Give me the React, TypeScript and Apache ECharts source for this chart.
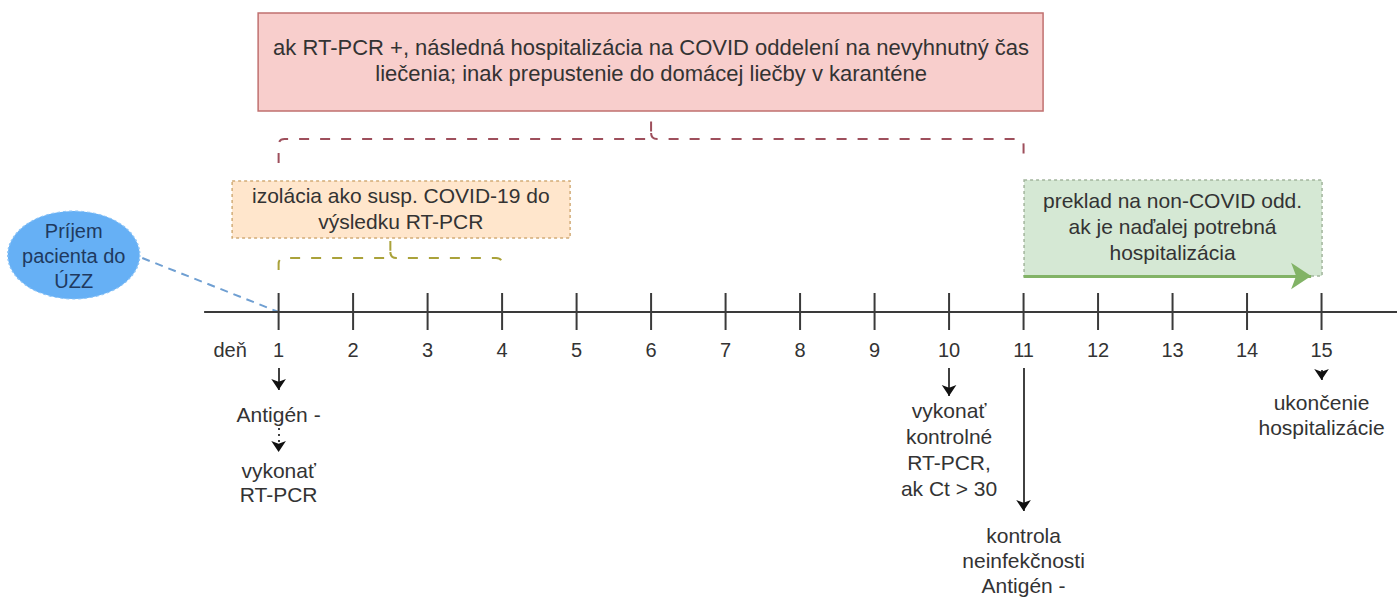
import React, { useEffect, useRef } from "react";
import * as echarts from "echarts";

// ---------- data ----------
const days = [1, 2, 3, 4, 5, 6, 7, 8, 9, 10, 11, 12, 13, 14, 15];
const dayLabels = ["1", "2", "3", "4", "5", "6", "7", "8", "9", "10", "11", "12", "13", "14", "15"];
const axisTitle = "deň";

// boxes above the timeline
const boxTexts = [
  "ak RT-PCR +, následná hospitalizácia na COVID oddelení na nevyhnutný čas\nliečenia; inak prepustenie do domácej liečby v karanténe",
  "izolácia ako susp. COVID-19 do\nvýsledku RT-PCR",
  "preklad na non-COVID odd.\nak je naďalej potrebná\nhospitalizácia",
];
const bracketStartDays = [1, 1];
const bracketEndDays = [11, 4];
const transferStartDay = 11;
const transferEndDay = 15;

// notes below the timeline
const noteDays = [1, 1, 10, 11, 15];
const noteTexts = [
  "Antigén -",
  "vykonať\nRT-PCR",
  "vykonať\nkontrolné\nRT-PCR,\nak Ct > 30",
  "kontrola\nneinfekčnosti\nAntigén -",
  "ukončenie\nhospitalizácie",
];
const arrowDays = [1, 1, 10, 11, 15];

const admissionText = "Príjem\npacienta do\nÚZZ";

// ---------- layout (pixels on the vertical scale, day offsets on the horizontal) ----------
const AXIS_Y = 312;
const LABEL_Y = 350;
const TITLE_DAY = 0.35;
const FONT = "'Liberation Sans', Arial, Helvetica, sans-serif";

const boxRects = [
  // x0Day, x1Day, y0, y1
  [0.725, 11.262, 13, 111],
  [0.376, 4.913, 181, 238],
  [11.007, 15.007, 180, 276],
];
const boxStyles = [
  { fill: "#f8cecc", stroke: "#c0706f", dash: null as any, text: "#333", textX: 6.0, textY: 60, lh: 26, size: 22 },
  { fill: "#ffe6cc", stroke: "#d2ac77", dash: [3, 3], text: "#333", textX: 2.64, textY: 208, lh: 26, size: 21 },
  { fill: "#d5e8d4", stroke: "#a3b59d", dash: [3, 3], text: "#333", textX: 13.0, textY: 226, lh: 26, size: 21 },
];
const bracketGeom = [
  // yTop, yH, yEnd
  [120, 139, 163],
  [241, 258, 270],
];
const bracketColors = ["#9e4f5c", "#aaa23a"];
const noteY = [414, 482, 449, 560, 415];
const noteLH = [24, 24, 26, 25, 25];
const arrowY = [
  [368, 390],
  [428, 452],
  [368, 396],
  [368, 511],
  [370, 380],
];
const TRANSFER_Y = 276;
const ELLIPSE = { day: -1.75, y: 255, rx: 66, ry: 44 };
const CONNECTOR_START = [-0.83, 258];

export default function App() {
  const ref = useRef<HTMLDivElement>(null);

  useEffect(() => {
    if (!ref.current) return;
    const chart = echarts.init(ref.current, null, { renderer: "svg" });

    const textEl = (p: number[], text: string, size: number, lh: number, fill: string) => ({
      type: "text",
      x: p[0],
      y: p[1],
      style: {
        text,
        fill,
        fontSize: size,
        fontFamily: FONT,
        lineHeight: lh,
        align: "center",
        verticalAlign: "middle",
      },
    });

    const option: any = {
      animation: false,
      grid: { left: 0, right: 0, top: 0, bottom: 0 },
      xAxis: { type: "value", min: -2.74, max: 16.013, show: false },
      yAxis: { type: "value", min: 0, max: 599, inverse: true, show: false },
      series: [
        // boxes
        {
          type: "custom",
          silent: true,
          data: boxRects,
          renderItem: (params: any, api: any) => {
            const i = params.dataIndex;
            const a = api.coord([api.value(0), api.value(2)]);
            const b = api.coord([api.value(1), api.value(3)]);
            const s = boxStyles[i];
            return {
              type: "rect",
              shape: { x: a[0], y: a[1], width: b[0] - a[0], height: b[1] - a[1] },
              style: { fill: s.fill, stroke: s.stroke, lineWidth: 1.5, lineDash: s.dash },
            };
          },
        },
        // box texts
        {
          type: "custom",
          silent: true,
          data: boxStyles.map((s) => [s.textX, s.textY]),
          renderItem: (params: any, api: any) => {
            const i = params.dataIndex;
            const s = boxStyles[i];
            const p = api.coord([api.value(0), api.value(1)]);
            return textEl(p, boxTexts[i], s.size, s.lh, s.text);
          },
        },
        // brackets
        {
          type: "custom",
          silent: true,
          data: bracketStartDays.map((d, i) => [d, bracketEndDays[i], ...bracketGeom[i]]),
          renderItem: (params: any, api: any) => {
            const i = params.dataIndex;
            const x1 = api.coord([api.value(0), 0])[0];
            const x2 = api.coord([api.value(1), 0])[0];
            const xm = (x1 + x2) / 2;
            const yTop = api.coord([0, api.value(2)])[1];
            const yH = api.coord([0, api.value(3)])[1];
            const yEnd = api.coord([0, api.value(4)])[1];
            const r = 6;
            const d =
              `M${x1},${yEnd} L${x1},${yH + r} Q${x1},${yH} ${x1 + r},${yH} L${xm - r},${yH} ` +
              `Q${xm},${yH} ${xm},${yH - r} L${xm},${yTop} M${xm},${yH - r} Q${xm},${yH} ${xm + r},${yH} ` +
              `L${x2 - r},${yH} Q${x2},${yH} ${x2},${yH + r} L${x2},${yEnd}`;
            return {
              type: "path",
              shape: { pathData: d },
              style: { fill: "none", stroke: bracketColors[i], lineWidth: 2, lineDash: [10, 11] },
            };
          },
        },
        // admission ellipse + text
        {
          type: "custom",
          silent: true,
          data: [[ELLIPSE.day, ELLIPSE.y]],
          renderItem: (params: any, api: any) => {
            const p = api.coord([api.value(0), api.value(1)]);
            return {
              type: "group",
              children: [
                {
                  type: "circle",
                  x: p[0],
                  y: p[1],
                  scaleY: ELLIPSE.ry / ELLIPSE.rx,
                  shape: { cx: 0, cy: 0, r: ELLIPSE.rx },
                  style: { fill: "#66b0f5", stroke: "#8cc4f7", lineWidth: 1.5, lineDash: [3, 3] },
                },
                textEl([p[0], p[1] + 1], admissionText, 20, 25, "#1f3a60"),
              ],
            };
          },
        },
        // admission connector
        {
          type: "lines",
          coordinateSystem: "cartesian2d",
          silent: true,
          symbol: ["none", "none"],
          lineStyle: { color: "#6f9fd2", width: 2, type: [8, 6], opacity: 1 },
          data: [{ coords: [CONNECTOR_START, [days[0], AXIS_Y]] }],
        },
        // timeline axis
        {
          type: "line",
          silent: true,
          showSymbol: false,
          symbol: "none",
          lineStyle: { color: "#3a3a3a", width: 2 },
          data: [[0, AXIS_Y], [16.013, AXIS_Y]],
        },
        // ticks
        {
          type: "scatter",
          silent: true,
          symbol: "rect",
          symbolSize: [2, 37],
          itemStyle: { color: "#3a3a3a", opacity: 1 },
          data: days.map((d) => [d, AXIS_Y - 0.5]),
        },
        // day labels
        {
          type: "custom",
          silent: true,
          data: [...days.map((d) => [d, LABEL_Y]), [TITLE_DAY, LABEL_Y]],
          renderItem: (params: any, api: any) => {
            const i = params.dataIndex;
            const p = api.coord([api.value(0), api.value(1)]);
            return textEl(p, i < dayLabels.length ? dayLabels[i] : axisTitle, 20, 24, "#333");
          },
        },
        // transfer arrow
        {
          type: "lines",
          coordinateSystem: "cartesian2d",
          silent: true,
          symbol: ["none", "arrow"],
          symbolSize: 20,
          lineStyle: { color: "#82b366", width: 3, opacity: 1 },
          data: [{ coords: [[transferStartDay, TRANSFER_Y], [transferEndDay - 0.14, TRANSFER_Y]] }],
        },
        // black arrows below
        {
          type: "lines",
          coordinateSystem: "cartesian2d",
          silent: true,
          symbol: ["none", "arrow"],
          symbolSize: 11,
          lineStyle: { color: "#111", width: 1.6, opacity: 1 },
          data: arrowDays
            .map((d, i) => ({ coords: [[d, arrowY[i][0]], [d, arrowY[i][1]]] }))
            .filter((_, i) => i !== 1),
        },
        {
          type: "lines",
          coordinateSystem: "cartesian2d",
          silent: true,
          symbol: ["none", "arrow"],
          symbolSize: 11,
          lineStyle: { color: "#111", width: 1.6, type: [2, 4], opacity: 1 },
          data: [{ coords: [[arrowDays[1], arrowY[1][0]], [arrowDays[1], arrowY[1][1]]] }],
        },
        // notes
        {
          type: "custom",
          silent: true,
          data: noteDays.map((d, i) => [d, noteY[i]]),
          renderItem: (params: any, api: any) => {
            const i = params.dataIndex;
            const p = api.coord([api.value(0), api.value(1)]);
            return textEl(p, noteTexts[i], 21, noteLH[i], "#333");
          },
        },
      ],
    };

    chart.setOption(option);
    return () => chart.dispose();
  }, []);

  return (
    <div
      ref={ref}
      style={{ position: "fixed", left: 0, top: 0, width: 1397, height: 599, background: "#fff" }}
    />
  );
}
